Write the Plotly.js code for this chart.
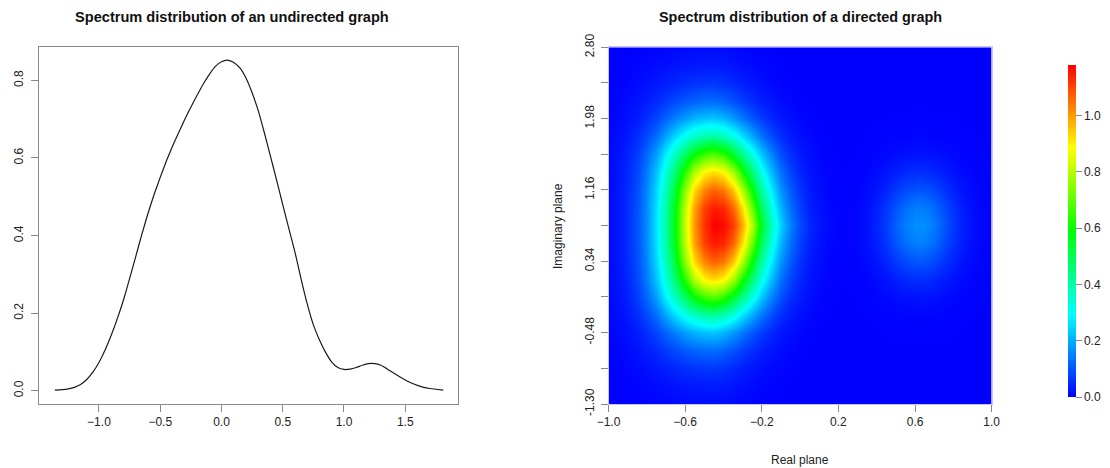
<!DOCTYPE html>
<html>
<head>
<meta charset="utf-8">
<script src="https://cdn.plot.ly/plotly-3.0.1.min.js"></script>
<style>html,body{margin:0;padding:0;background:#fff;}#chart{width:1110px;height:468px;}</style>
</head>
<body>
<div id="chart"></div>
<script>
// ---- Left panel: spectral density of an undirected graph ----
const densX = [-1.36,-1.3,-1.25,-1.2,-1.15,-1.1,-1.05,-1.0,-0.95,-0.9,-0.85,-0.8,-0.75,-0.7,-0.65,-0.6,-0.55,-0.5,-0.45,-0.4,-0.35,-0.3,-0.25,-0.2,-0.15,-0.1,-0.05,0.0,0.05,0.1,0.15,0.2,0.25,0.3,0.35,0.4,0.45,0.5,0.55,0.6,0.65,0.7,0.75,0.8,0.85,0.9,0.95,1.0,1.05,1.1,1.15,1.2,1.25,1.3,1.35,1.4,1.45,1.5,1.55,1.6,1.65,1.7,1.75,1.81];
const densY = [0.002,0.003,0.005,0.009,0.016,0.029,0.048,0.073,0.105,0.143,0.186,0.234,0.289,0.346,0.403,0.457,0.506,0.550,0.592,0.630,0.665,0.699,0.731,0.761,0.790,0.815,0.836,0.848,0.852,0.846,0.832,0.806,0.768,0.722,0.665,0.604,0.543,0.480,0.418,0.357,0.288,0.224,0.170,0.131,0.099,0.074,0.060,0.055,0.056,0.060,0.066,0.070,0.070,0.066,0.057,0.047,0.037,0.028,0.020,0.014,0.009,0.006,0.004,0.002];
const leftXTicks = [-1.0,-0.5,0.0,0.5,1.0,1.5];
const leftYTicks = [0.0,0.2,0.4,0.6,0.8];

// ---- Right panel: spectral density of a directed graph (complex plane) ----
const realX = [-1.0,-0.95,-0.9,-0.85,-0.8,-0.75,-0.7,-0.65,-0.6,-0.55,-0.5,-0.45,-0.4,-0.35,-0.3,-0.25,-0.2,-0.15,-0.1,-0.05,0.0,0.05,0.1,0.15,0.2,0.25,0.3,0.35,0.4,0.45,0.5,0.55,0.6,0.65,0.7,0.75,0.8,0.85,0.9,0.95,1.0];
const imagY = [-1.3,-1.095,-0.89,-0.685,-0.48,-0.275,-0.07,0.135,0.34,0.545,0.75,0.955,1.16,1.365,1.57,1.775,1.98,2.185,2.39,2.595,2.8];
// density rows, named by distance (in rows) from the Im = 0.75 centre line
const zRow0  = [0.013,0.026,0.052,0.096,0.164,0.268,0.40,0.591,0.835,1.011,1.126,1.18,1.17,1.108,0.981,0.79,0.545,0.368,0.245,0.148,0.085,0.045,0.023,0.011,0.004,0.003,0.008,0.020,0.041,0.073,0.111,0.147,0.168,0.166,0.141,0.103,0.065,0.036,0.017,0.007,0.002];
const zRow1  = [0.013,0.026,0.052,0.095,0.162,0.265,0.395,0.581,0.823,0.997,1.108,1.15,1.138,1.06,0.92,0.706,0.482,0.328,0.212,0.127,0.071,0.036,0.019,0.008,0.003,0.003,0.007,0.018,0.036,0.064,0.097,0.129,0.147,0.146,0.124,0.090,0.057,0.032,0.015,0.006,0.002];
const zRow2  = [0.012,0.025,0.05,0.091,0.155,0.253,0.372,0.541,0.766,0.933,1.031,1.07,1.043,0.951,0.796,0.577,0.403,0.275,0.173,0.103,0.057,0.029,0.014,0.006,0.002,0.002,0.005,0.012,0.024,0.043,0.066,0.087,0.099,0.098,0.083,0.061,0.038,0.021,0.010,0.004,0.001];
const zRow3  = [0.011,0.024,0.045,0.083,0.143,0.228,0.336,0.471,0.643,0.803,0.898,0.926,0.894,0.783,0.61,0.448,0.319,0.215,0.134,0.077,0.042,0.022,0.01,0.004,0.001,0.001,0.002,0.006,0.013,0.022,0.034,0.045,0.051,0.051,0.043,0.032,0.020,0.011,0.005,0.002,0.001];
const zRow4  = [0.01,0.021,0.038,0.071,0.12,0.189,0.277,0.373,0.483,0.585,0.659,0.687,0.641,0.535,0.427,0.322,0.23,0.15,0.093,0.053,0.029,0.015,0.007,0.002,0,0,0.001,0.002,0.005,0.009,0.014,0.018,0.020,0.020,0.017,0.013,0.008,0.004,0.002,0.001,0];
const zRow5  = [0.008,0.015,0.028,0.052,0.085,0.13,0.191,0.256,0.315,0.36,0.391,0.403,0.374,0.322,0.259,0.193,0.134,0.086,0.052,0.03,0.016,0.008,0.003,0,0,0,0,0.001,0.002,0.003,0.004,0.005,0.006,0.006,0.005,0.004,0.002,0.001,0.001,0,0];
const zRow6  = [0.004,0.01,0.019,0.032,0.054,0.081,0.116,0.15,0.184,0.21,0.225,0.23,0.212,0.177,0.138,0.101,0.069,0.044,0.026,0.015,0.007,0.003,0,0,0,0,0,0,0,0.001,0.001,0.001,0.002,0.002,0.001,0.001,0.001,0,0,0,0];
const zRow7  = [0.002,0.006,0.012,0.021,0.033,0.048,0.066,0.085,0.103,0.115,0.123,0.126,0.114,0.094,0.072,0.052,0.034,0.023,0.013,0.007,0.002,0,0,0,0,0,0,0,0,0,0,0,0,0,0,0,0,0,0,0,0];
const zRow8  = [0,0.003,0.006,0.011,0.018,0.026,0.034,0.044,0.052,0.058,0.062,0.064,0.057,0.046,0.034,0.025,0.016,0.01,0.005,0.002,0,0,0,0,0,0,0,0,0,0,0,0,0,0,0,0,0,0,0,0,0];
const zRow9  = [0,0,0.002,0.005,0.008,0.013,0.017,0.022,0.025,0.028,0.029,0.03,0.027,0.021,0.016,0.011,0.007,0.004,0.001,0,0,0,0,0,0,0,0,0,0,0,0,0,0,0,0,0,0,0,0,0,0];
const zRow10 = [0,0,0,0.001,0.003,0.005,0.007,0.009,0.011,0.012,0.013,0.013,0.012,0.009,0.006,0.004,0.001,0,0,0,0,0,0,0,0,0,0,0,0,0,0,0,0,0,0,0,0,0,0,0,0];
const densityZ = [zRow10,zRow9,zRow8,zRow7,zRow6,zRow5,zRow4,zRow3,zRow2,zRow1,zRow0,zRow1,zRow2,zRow3,zRow4,zRow5,zRow6,zRow7,zRow8,zRow9,zRow10];
const rightXTicks = [-1.0,-0.6,-0.2,0.2,0.6,1.0];
const rightYTickVals = [-1.30,-0.89,-0.48,-0.07,0.34,0.75,1.16,1.57,1.98,2.39,2.80];
const rightYTickText = ['-1.30','','-0.48','','0.34','','1.16','','1.98','','2.80'];
const colorbarTicks = [0.0,0.2,0.4,0.6,0.8,1.0];

const W = 1110, H = 468;
const px = v => v / W;
const py = v => 1 - v / H;
const FONT = '"Liberation Sans", Arial, Helvetica, sans-serif';
const tickFont = {family: FONT, size: 12, color: '#222'};

const traces = [
  {
    type: 'scatter', mode: 'lines', x: densX, y: densY,
    line: {color: '#1a1a1a', width: 1.2, shape: 'spline', smoothing: 0.5},
    xaxis: 'x', yaxis: 'y', hoverinfo: 'x+y', showlegend: false
  },
  {
    type: 'heatmap', x: realX, y: imagY, z: densityZ,
    xaxis: 'x2', yaxis: 'y2', zsmooth: 'best', zmin: 0, zmax: 1.18,
    colorscale: [[0,'#0000FF'],[0.25,'#00FFFF'],[0.5,'#00FF00'],[0.75,'#FFFF00'],[1,'#FF0000']],
    colorbar: {
      x: px(1068), xanchor: 'left', xpad: 0, ypad: 0,
      y: py(231), yanchor: 'middle', len: 332, lenmode: 'pixels',
      thickness: 8, outlinewidth: 0,
      tickvals: colorbarTicks, tickformat: '.1f', ticks: 'outside', ticklen: 6,
      tickcolor: '#888', tickfont: tickFont
    }
  }
];

const baseAxis = {
  showgrid: false, zeroline: false, ticks: 'outside', ticklen: 7, tickwidth: 1,
  tickcolor: '#888', tickfont: tickFont, automargin: false, fixedrange: true
};

const layout = {
  width: W, height: H,
  margin: {l: 0, r: 0, t: 0, b: 0},
  paper_bgcolor: '#fff', plot_bgcolor: '#fff',
  font: {family: FONT, color: '#222'},
  showlegend: false,
  xaxis: Object.assign({}, baseAxis, {
    domain: [px(39.3), px(458.3)], range: [-1.487, 1.933],
    tickvals: leftXTicks, tickformat: '.1f',
    showline: true, linecolor: '#8a8a8a', linewidth: 1, mirror: true, anchor: 'y'
  }),
  yaxis: Object.assign({}, baseAxis, {
    domain: [1 - 404/H, 1 - 47/H], range: [-0.034, 0.886],
    tickvals: leftYTicks, tickformat: '.1f', tickangle: -90, ticklabelstandoff: 4,
    showline: true, linecolor: '#8a8a8a', linewidth: 1, mirror: true, anchor: 'x'
  }),
  xaxis2: Object.assign({}, baseAxis, {
    domain: [px(608.5), px(991.7)], range: [-1, 1],
    tickvals: rightXTicks, tickformat: '.1f',
    showline: true, linecolor: '#c4c4ff', linewidth: 1, mirror: true, anchor: 'y2'
  }),
  yaxis2: Object.assign({}, baseAxis, {
    domain: [1 - 404/H, 1 - 47.3/H], range: [-1.3, 2.8],
    tickvals: rightYTickVals, ticktext: rightYTickText, tickangle: -90, ticklabelstandoff: 2,
    showline: true, linecolor: '#c4c4ff', linewidth: 1, mirror: true, anchor: 'x2'
  }),
  annotations: [
    {text: '<b>Spectrum distribution of an undirected graph</b>', xref: 'paper', yref: 'paper',
     x: px(232), y: py(17), xanchor: 'center', yanchor: 'middle', showarrow: false,
     font: {family: FONT, size: 14.6, color: '#111'}},
    {text: '<b>Spectrum distribution of a directed graph</b>', xref: 'paper', yref: 'paper',
     x: px(800), y: py(17), xanchor: 'center', yanchor: 'middle', showarrow: false,
     font: {family: FONT, size: 14.4, color: '#111'}},
    {text: 'Real plane', xref: 'paper', yref: 'paper',
     x: px(800), y: py(460), xanchor: 'center', yanchor: 'middle', showarrow: false,
     font: {family: FONT, size: 12, color: '#222'}},
    {text: 'Imaginary plane', xref: 'paper', yref: 'paper', textangle: -90,
     x: px(558), y: py(226), xanchor: 'center', yanchor: 'middle', showarrow: false,
     font: {family: FONT, size: 12, color: '#222'}}
  ]
};

Plotly.newPlot('chart', traces, layout, {displayModeBar: false, staticPlot: true});
</script>
</body>
</html>
